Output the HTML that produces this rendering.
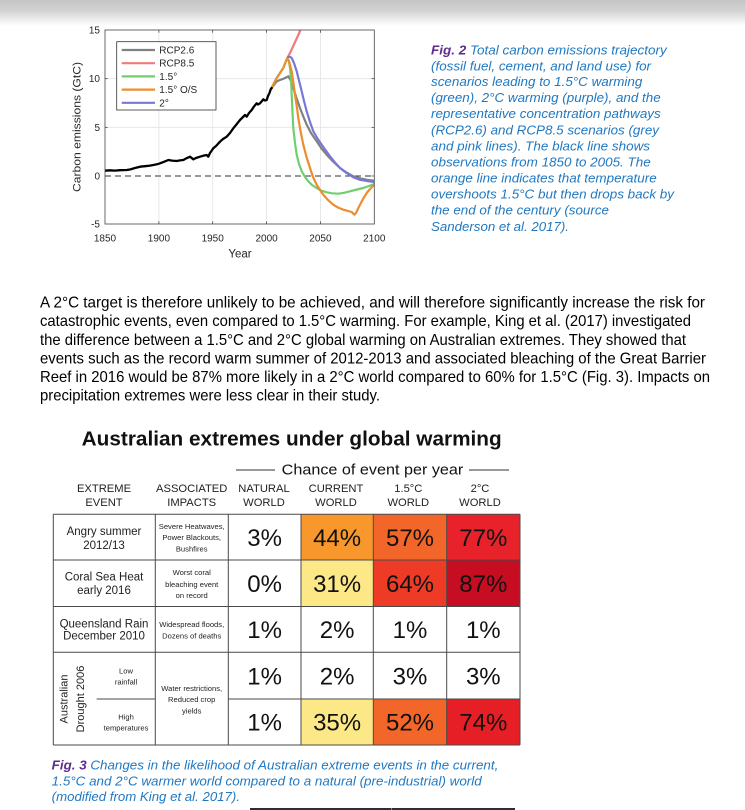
<!DOCTYPE html>
<html>
<head>
<meta charset="utf-8">
<style>
html,body{margin:0;padding:0;background:#fff;}
body{width:745px;height:810px;overflow:hidden;}
svg{display:block;}
.sans{font-family:"Liberation Sans",Arial,sans-serif;}
.narrow{font-family:"Liberation Sans Narrow","Liberation Sans",Arial,sans-serif;}
</style>
</head>
<body>
<svg width="745" height="810" viewBox="0 0 745 810" xmlns="http://www.w3.org/2000/svg">
<defs>
<linearGradient id="topg" x1="0" y1="0" x2="0" y2="1">
<stop offset="0" stop-color="#c4c4c4"/>
<stop offset="0.4" stop-color="#d2d2d2"/>
<stop offset="1" stop-color="#ffffff"/>
</linearGradient>
<clipPath id="pc"><rect x="105" y="30" width="269.3" height="194"/></clipPath>
</defs>
<rect x="0" y="0" width="745" height="810" fill="#fff"/>
<rect x="0" y="0" width="745" height="26" fill="url(#topg)"/>

<!-- ===== Chart ===== -->
<g>
<g stroke="#e3e3e3" stroke-width="0.8">
<line x1="158.9" y1="30" x2="158.9" y2="224"/>
<line x1="212.7" y1="30" x2="212.7" y2="224"/>
<line x1="266.6" y1="30" x2="266.6" y2="224"/>
<line x1="320.4" y1="30" x2="320.4" y2="224"/>
<line x1="105" y1="78.7" x2="374.3" y2="78.7"/>
<line x1="105" y1="127.3" x2="374.3" y2="127.3"/>
</g>
<line x1="105" y1="176" x2="374.3" y2="176" stroke="#333" stroke-width="0.9" stroke-dasharray="6,4"/>
<g stroke="#333" stroke-width="0.7">
<line x1="158.9" y1="224" x2="158.9" y2="221.3"/><line x1="212.7" y1="224" x2="212.7" y2="221.3"/>
<line x1="266.6" y1="224" x2="266.6" y2="221.3"/><line x1="320.4" y1="224" x2="320.4" y2="221.3"/>
<line x1="158.9" y1="30" x2="158.9" y2="32.7"/><line x1="212.7" y1="30" x2="212.7" y2="32.7"/>
<line x1="266.6" y1="30" x2="266.6" y2="32.7"/><line x1="320.4" y1="30" x2="320.4" y2="32.7"/>
<line x1="105" y1="78.7" x2="107.7" y2="78.7"/><line x1="105" y1="127.3" x2="107.7" y2="127.3"/><line x1="105" y1="176" x2="107.7" y2="176"/>
<line x1="374.3" y1="78.7" x2="371.6" y2="78.7"/><line x1="374.3" y1="127.3" x2="371.6" y2="127.3"/><line x1="374.3" y1="176" x2="371.6" y2="176"/>
</g>

<g clip-path="url(#pc)" fill="none" stroke-linejoin="round" stroke-linecap="round">
<polyline stroke="#808080" stroke-width="2.2" points="271.7,88 274,85 276.7,81.3 280,80 284,78.5 288.3,76.3 290.5,80 293.3,88 296.5,98 300,108 303.5,117 306.7,124.7 311,133 316.7,141.3 321.5,148.5 326.7,154.7 333,161.5 340,168 346.5,172.5 353.3,176.3 360,178.3 367,179.8 374.3,180.7"/>
<polyline stroke="#ef7b7b" stroke-width="2.2" points="287.3,58 290,53 293,46.5 296,40 299,33.5 301,28"/>
<polyline stroke="#6fcf6f" stroke-width="2.2" points="271.7,88 274,83 276.7,78 280,73 283.3,68 286,61 287.3,58 289,62 290,68 291,80 291.7,94.7 292.5,112 293.3,128 295,143 296.7,154.7 299,164 301.7,171.3 305,177 308.3,181.3 312,185 316.7,188 321,190.5 326.7,192.3 332,193.3 338.3,193.7 344,192.8 350,191.3 357,189.5 363.3,188 369,186 374.3,184"/>
<polyline stroke="#ee8d2d" stroke-width="2.2" points="271.7,88 274,83 276.7,78 280,73 283.3,68 286,61 287.3,58 289,61 291.7,71.3 293,80 295,94.7 297,108 298.3,118 300.5,131 303.3,144.7 306.5,157 310,168 313,177 316.7,184.7 320,190 323.3,194.7 328,200 333.3,204.7 338,207.5 343.3,209.7 348,211 351.7,212 354.3,214.7 356,213 360,204.7 363,199 366.7,193 370,189 374.3,184.7"/>
<polyline stroke="#7878d6" stroke-width="2.2" points="288.3,57 290,56.8 291.7,58 294,63 296.7,71.3 299,80.5 301.7,91.3 304,101 306.7,111.3 310,122 313.3,131.3 317.5,138.5 321.7,144.7 326,150.8 330,156.3 335,162.5 340,168 346.5,173 353.3,177.3 360,179.8 367,181 374.3,182"/>
<polyline stroke="#000" stroke-width="2.3" points="105,170.7 110,170.3 115,170.6 120,170.2 126.7,170 130,169.5 135,168 140,166.7 145,166.2 150,165.6 153.3,165 157,164.3 160,163.3 164,161.8 168.3,160 172,160.6 176.7,161 180,160.4 183.3,160 186,158.5 190,156.7 193.3,159.3 196,158 200,156.7 203,155.8 206.7,155 208.3,156.7 210,153 213.3,148.3 216,146 220,141.7 223,139 226.7,136.7 230,133 233.3,128.3 236,125 240,120 243,117 245,115 246.7,116.7 249,113 251.7,110 254,106.5 256.7,103.3 258,104.5 260,103.3 262,101 263.3,99.3 265,100.5 266.7,100 268,96 269.5,93 270.7,89.3 271.7,88"/>
</g>
<rect x="105" y="30" width="269.3" height="194" fill="none" stroke="#444" stroke-width="0.8"/>

<rect x="116.7" y="41.7" width="99.3" height="68.3" fill="#fff" stroke="#333" stroke-width="0.8"/>
<g stroke-width="2.2">
<line x1="121.7" y1="50" x2="155" y2="50" stroke="#808080"/>
<line x1="121.7" y1="63.2" x2="155" y2="63.2" stroke="#ef7b7b"/>
<line x1="121.7" y1="76.4" x2="155" y2="76.4" stroke="#6fcf6f"/>
<line x1="121.7" y1="89.6" x2="155" y2="89.6" stroke="#ee8d2d"/>
<line x1="121.7" y1="102.8" x2="155" y2="102.8" stroke="#7878d6"/>
</g>
<g class="sans" font-size="10" fill="#262626">
<text x="159.3" y="53.5">RCP2.6</text>
<text x="159.3" y="66.7">RCP8.5</text>
<text x="159.3" y="79.9">1.5°</text>
<text x="159.3" y="93.1">1.5° O/S</text>
<text x="159.3" y="106.3">2°</text>
</g>

<g class="sans" font-size="10" fill="#262626" text-anchor="end">
<text x="100" y="33.5">15</text>
<text x="100" y="82.2">10</text>
<text x="100" y="130.8">5</text>
<text x="100" y="179.5">0</text>
<text x="100" y="227.5">-5</text>
</g>
<g class="sans" font-size="10" fill="#262626" text-anchor="middle">
<text x="105" y="241.5">1850</text>
<text x="158.9" y="241.5">1900</text>
<text x="212.7" y="241.5">1950</text>
<text x="266.6" y="241.5">2000</text>
<text x="320.4" y="241.5">2050</text>
<text x="374.3" y="241.5">2100</text>
</g>
<text class="sans" x="240" y="257.5" font-size="11.5" fill="#262626" text-anchor="middle">Year</text>
<text class="sans" transform="translate(80.5,127) rotate(-90)" x="0" y="0" font-size="11" fill="#262626" text-anchor="middle" textLength="130" lengthAdjust="spacingAndGlyphs">Carbon emissions (GtC)</text>
</g>

<!-- ===== Fig 2 caption ===== -->
<g class="sans" font-size="12.5" font-style="italic" fill="#1f78c1">
<text x="431" y="54.5" textLength="235.7" lengthAdjust="spacingAndGlyphs"><tspan fill="#5e2d8e" font-weight="bold">Fig. 2</tspan> Total carbon emissions trajectory</text>
<text x="431" y="70.5" textLength="220" lengthAdjust="spacingAndGlyphs">(fossil fuel, cement, and land use) for</text>
<text x="431" y="86.2" textLength="211.3" lengthAdjust="spacingAndGlyphs">scenarios leading to 1.5°C warming</text>
<text x="431" y="102.2" textLength="229.7" lengthAdjust="spacingAndGlyphs">(green), 2°C warming (purple), and the</text>
<text x="431" y="117.8" textLength="229.7" lengthAdjust="spacingAndGlyphs">representative concentration pathways</text>
<text x="431" y="134.3" textLength="228" lengthAdjust="spacingAndGlyphs">(RCP2.6) and RCP8.5 scenarios (grey</text>
<text x="431" y="150.3" textLength="219" lengthAdjust="spacingAndGlyphs">and pink lines). The black line shows</text>
<text x="431" y="166.4" textLength="219.7" lengthAdjust="spacingAndGlyphs">observations from 1850 to 2005. The</text>
<text x="431" y="182.4" textLength="225.7" lengthAdjust="spacingAndGlyphs">orange line indicates that temperature</text>
<text x="431" y="198.4" textLength="243" lengthAdjust="spacingAndGlyphs">overshoots 1.5°C but then drops back by</text>
<text x="431" y="214.4" textLength="178" lengthAdjust="spacingAndGlyphs">the end of the century (source</text>
<text x="431" y="230.8" textLength="138" lengthAdjust="spacingAndGlyphs">Sanderson et al. 2017).</text>
</g>

<!-- ===== Paragraph ===== -->
<g class="narrow" font-size="16" fill="#000">
<text x="40" y="307.6" textLength="665" lengthAdjust="spacingAndGlyphs">A 2°C target is therefore unlikely to be achieved, and will therefore significantly increase the risk for</text>
<text x="40" y="326.2" textLength="651" lengthAdjust="spacingAndGlyphs">catastrophic events, even compared to 1.5°C warming. For example, King et al. (2017) investigated</text>
<text x="40" y="344.8" textLength="646" lengthAdjust="spacingAndGlyphs">the difference between a 1.5°C and 2°C global warming on Australian extremes. They showed that</text>
<text x="40" y="363.4" textLength="666" lengthAdjust="spacingAndGlyphs">events such as the record warm summer of 2012-2013 and associated bleaching of the Great Barrier</text>
<text x="40" y="382" textLength="670" lengthAdjust="spacingAndGlyphs">Reef in 2016 would be 87% more likely in a 2°C world compared to 60% for 1.5°C (Fig. 3). Impacts on</text>
<text x="40" y="400.6" textLength="340" lengthAdjust="spacingAndGlyphs">precipitation extremes were less clear in their study.</text>
</g>

<!-- ===== Table figure ===== -->
<text class="sans" x="81.7" y="445.5" font-size="20" font-weight="bold" fill="#111" textLength="420" lengthAdjust="spacingAndGlyphs">Australian extremes under global warming</text>
<g stroke="#333" stroke-width="1">
<line x1="236" y1="470" x2="275" y2="470"/>
<line x1="469" y1="470" x2="509" y2="470"/>
</g>
<text class="sans" x="281.7" y="474.6" font-size="15" fill="#111" textLength="181.6" lengthAdjust="spacingAndGlyphs">Chance of event per year</text>
<g class="sans" font-size="11.2" fill="#222" text-anchor="middle">
<text x="104" y="491.8">EXTREME</text><text x="104" y="505.8">EVENT</text>
<text x="191.7" y="491.8">ASSOCIATED</text><text x="191.7" y="505.8">IMPACTS</text>
<text x="264" y="491.8">NATURAL</text><text x="264" y="505.8">WORLD</text>
<text x="336" y="491.8">CURRENT</text><text x="336" y="505.8">WORLD</text>
<text x="408.3" y="491.8">1.5°C</text><text x="408.3" y="505.8">WORLD</text>
<text x="480" y="491.8">2°C</text><text x="480" y="505.8">WORLD</text>
</g>

<rect x="301" y="514.3" width="72.3" height="45.7" fill="#f8982c"/>
<rect x="373.3" y="514.3" width="73.4" height="45.7" fill="#f3662a"/>
<rect x="446.7" y="514.3" width="73.3" height="45.7" fill="#e7222a"/>
<rect x="301" y="560" width="72.3" height="46.5" fill="#fde888"/>
<rect x="373.3" y="560" width="73.4" height="46.5" fill="#ee3b26"/>
<rect x="446.7" y="560" width="73.3" height="46.5" fill="#c60d22"/>
<rect x="301" y="699" width="72.3" height="46" fill="#fde888"/>
<rect x="373.3" y="699" width="73.4" height="46" fill="#f3662a"/>
<rect x="446.7" y="699" width="73.3" height="46" fill="#e61e26"/>

<g stroke="#4a4a4a" stroke-width="1">
<line x1="53.3" y1="514.3" x2="520" y2="514.3"/>
<line x1="53.3" y1="560" x2="520" y2="560"/>
<line x1="53.3" y1="606.5" x2="520" y2="606.5"/>
<line x1="53.3" y1="652.3" x2="520" y2="652.3"/>
<line x1="53.3" y1="745" x2="520" y2="745"/>
<line x1="96.7" y1="699" x2="155.3" y2="699"/>
<line x1="228.3" y1="699" x2="520" y2="699"/>
<line x1="53.3" y1="514.3" x2="53.3" y2="745"/>
<line x1="155.3" y1="514.3" x2="155.3" y2="745"/>
<line x1="228.3" y1="514.3" x2="228.3" y2="745"/>
<line x1="301" y1="514.3" x2="301" y2="745"/>
<line x1="373.3" y1="514.3" x2="373.3" y2="745"/>
<line x1="446.7" y1="514.3" x2="446.7" y2="745"/>
<line x1="520" y1="514.3" x2="520" y2="745"/>
</g>

<g class="sans" font-size="11.5" fill="#222" text-anchor="middle">
<text x="104" y="535">Angry summer</text><text x="104" y="549">2012/13</text>
<text x="104" y="580.7">Coral Sea Heat</text><text x="104" y="594">early 2016</text>
<text x="104" y="627.3">Queensland Rain</text><text x="104" y="639.7">December 2010</text>
</g>
<g class="sans" font-size="11" fill="#222" text-anchor="middle">
<text transform="translate(67.3,699) rotate(-90)" x="0" y="0">Australian</text>
<text transform="translate(84,699) rotate(-90)" x="0" y="0">Drought 2006</text>
</g>
<g class="sans" font-size="7.6" fill="#222" text-anchor="middle">
<text x="126" y="673.5">Low</text><text x="126" y="684.5">rainfall</text>
<text x="126" y="719.5">High</text><text x="126" y="730.5">temperatures</text>
<text x="191.7" y="528.8">Severe Heatwaves,</text><text x="191.7" y="540.1">Power Blackouts,</text><text x="191.7" y="551.5">Bushfires</text>
<text x="191.7" y="575.1">Worst coral</text><text x="191.7" y="586.8">bleaching event</text><text x="191.7" y="598.1">on record</text>
<text x="191.7" y="627.1">Widespread floods,</text><text x="191.7" y="638.5">Dozens of deaths</text>
<text x="191.7" y="691.1">Water restrictions,</text><text x="191.7" y="702.1">Reduced crop</text><text x="191.7" y="713.5">yields</text>
</g>

<g class="sans" font-size="24" fill="#111" text-anchor="middle">
<text x="264.6" y="545.8">3%</text><text x="337.1" y="545.8">44%</text><text x="410" y="545.8">57%</text><text x="483.3" y="545.8">77%</text>
<text x="264.6" y="592">0%</text><text x="337.1" y="592">31%</text><text x="410" y="592">64%</text><text x="483.3" y="592">87%</text>
<text x="264.6" y="638.1">1%</text><text x="337.1" y="638.1">2%</text><text x="410" y="638.1">1%</text><text x="483.3" y="638.1">1%</text>
<text x="264.6" y="684.3">1%</text><text x="337.1" y="684.3">2%</text><text x="410" y="684.3">3%</text><text x="483.3" y="684.3">3%</text>
<text x="264.6" y="730.6">1%</text><text x="337.1" y="730.6">35%</text><text x="410" y="730.6">52%</text><text x="483.3" y="730.6">74%</text>
</g>

<!-- ===== Fig 3 caption ===== -->
<g class="sans" font-size="12.5" font-style="italic" fill="#1f78c1">
<text x="51.7" y="769.5" textLength="446.6" lengthAdjust="spacingAndGlyphs"><tspan fill="#5e2d8e" font-weight="bold">Fig. 3</tspan> Changes in the likelihood of Australian extreme events in the current,</text>
<text x="51.7" y="785.5" textLength="430" lengthAdjust="spacingAndGlyphs">1.5°C and 2°C warmer world compared to a natural (pre-industrial) world</text>
<text x="51.7" y="801.2" textLength="188.3" lengthAdjust="spacingAndGlyphs">(modified from King et al. 2017).</text>
</g>

<rect x="250" y="808" width="265" height="2" fill="#2e2e2e"/>
<rect x="391" y="808" width="1" height="2" fill="#888"/>
</svg>
</body>
</html>
